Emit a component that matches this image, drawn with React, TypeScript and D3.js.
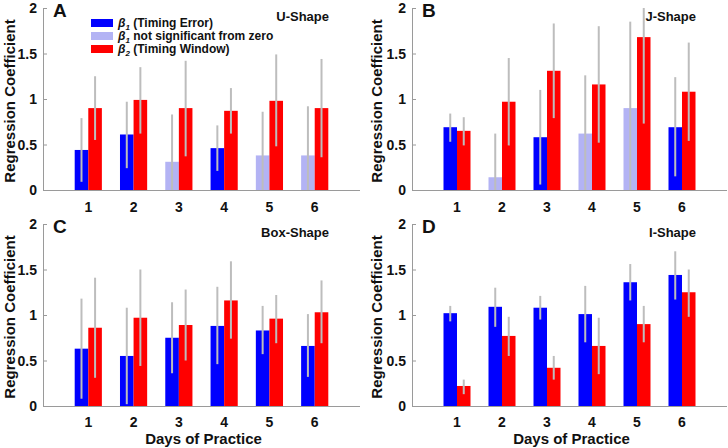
import React from "react";
import * as d3 from "d3";

const days = [1, 2, 3, 4, 5, 6];
const yTicks = [0, 0.5, 1, 1.5, 2];
const yTickLabels = ["0", "0.5", "1", "1.5", "2"];

// Panel A (U-Shape)
const aBeta1 = [0.44, 0.61, 0.31, 0.46, 0.38, 0.38];
const aBeta1Lo = [0.09, 0.24, -0.2, 0.21, -0.1, -0.15];
const aBeta1Hi = [0.79, 0.97, 0.83, 0.71, 0.86, 0.92];
const aBeta1Sig = [true, true, false, true, false, false];
const aBeta2 = [0.9, 0.99, 0.9, 0.87, 0.98, 0.9];
const aBeta2Lo = [0.55, 0.62, 0.37, 0.62, 0.48, 0.36];
const aBeta2Hi = [1.25, 1.35, 1.42, 1.12, 1.49, 1.44];

// Panel B (J-Shape)
const bBeta1 = [0.69, 0.14, 0.58, 0.62, 0.9, 0.69];
const bBeta1Lo = [0.53, -0.35, 0.06, -0.05, -0.05, 0.15];
const bBeta1Hi = [0.84, 0.62, 1.1, 1.26, 1.85, 1.24];
const bBeta1Sig = [true, false, true, false, false, true];
const bBeta2 = [0.65, 0.97, 1.31, 1.16, 1.68, 1.08];
const bBeta2Lo = [0.49, 0.49, 0.79, 0.52, 0.73, 0.54];
const bBeta2Hi = [0.8, 1.45, 1.83, 1.8, 2.6, 1.62];

// Panel C (Box-Shape)
const cBeta1 = [0.63, 0.55, 0.75, 0.88, 0.83, 0.66];
const cBeta1Lo = [0.08, 0.02, 0.36, 0.46, 0.57, 0.32];
const cBeta1Hi = [1.18, 1.08, 1.14, 1.31, 1.1, 1.01];
const cBeta1Sig = [true, true, true, true, true, true];
const cBeta2 = [0.86, 0.97, 0.89, 1.16, 0.96, 1.03];
const cBeta2Lo = [0.31, 0.44, 0.5, 0.74, 0.69, 0.69];
const cBeta2Hi = [1.41, 1.5, 1.28, 1.59, 1.22, 1.38];

// Panel D (I-Shape)
const dBeta1 = [1.02, 1.09, 1.08, 1.01, 1.36, 1.44];
const dBeta1Lo = [0.93, 0.87, 0.95, 0.7, 1.16, 1.17];
const dBeta1Hi = [1.1, 1.3, 1.21, 1.32, 1.56, 1.7];
const dBeta1Sig = [true, true, true, true, true, true];
const dBeta2 = [0.22, 0.77, 0.42, 0.66, 0.9, 1.25];
const dBeta2Lo = [0.13, 0.55, 0.29, 0.35, 0.7, 0.98];
const dBeta2Hi = [0.29, 0.98, 0.55, 0.97, 1.1, 1.5];

const panelLetters = ["A", "B", "C", "D"];
const panelTitles = ["U-Shape", "J-Shape", "Box-Shape", "I-Shape"];
const legendLabels = ["(Timing Error)", "not significant from zero", "(Timing Window)"];

const BLUE = "#0000ff";
const LIGHT = "#b3b3f4";
const RED = "#ff0000";
const ERR = "#bdbdbd";
const AXIS = "#9a9a9a";
const FONT = "'Liberation Sans', Arial, Helvetica, sans-serif";

type PanelData = {
  b1: number[]; b1Lo: number[]; b1Hi: number[]; sig: boolean[];
  b2: number[]; b2Lo: number[]; b2Hi: number[];
};

const panels: PanelData[] = [
  { b1: aBeta1, b1Lo: aBeta1Lo, b1Hi: aBeta1Hi, sig: aBeta1Sig, b2: aBeta2, b2Lo: aBeta2Lo, b2Hi: aBeta2Hi },
  { b1: bBeta1, b1Lo: bBeta1Lo, b1Hi: bBeta1Hi, sig: bBeta1Sig, b2: bBeta2, b2Lo: bBeta2Lo, b2Hi: bBeta2Hi },
  { b1: cBeta1, b1Lo: cBeta1Lo, b1Hi: cBeta1Hi, sig: cBeta1Sig, b2: cBeta2, b2Lo: cBeta2Lo, b2Hi: cBeta2Hi },
  { b1: dBeta1, b1Lo: dBeta1Lo, b1Hi: dBeta1Hi, sig: dBeta1Sig, b2: dBeta2, b2Lo: dBeta2Lo, b2Hi: dBeta2Hi },
];

const layouts = [
  { left: 43, right: 360, top: 8, bottom: 190, ylabX: 10 },
  { left: 412, right: 727, top: 8, bottom: 190, ylabX: 377 },
  { left: 43, right: 360, top: 224, bottom: 406, ylabX: 10 },
  { left: 412, right: 727, top: 224, bottom: 406, ylabX: 377 },
];

const BW = 0.3;

function Panel({ idx }: { idx: number }) {
  const L = layouts[idx];
  const D = panels[idx];
  const x = d3.scaleLinear().domain([0, 7]).range([L.left, L.right]);
  const y = d3.scaleLinear().domain([0, 2]).range([L.bottom, L.top]).clamp(true);
  const bw = x(BW) - x(0);
  const isBottom = idx >= 2;
  const tickLabY = isBottom ? 427 : 212;
  return (
    <g>
      {days.map((d, i) => (
        <g key={d}>
          <rect x={x(d) - bw} width={bw} y={y(D.b1[i])} height={y(0) - y(D.b1[i])}
            fill={D.sig[i] ? BLUE : LIGHT} />
          <rect x={x(d)} width={bw} y={y(D.b2[i])} height={y(0) - y(D.b2[i])} fill={RED} />
        </g>
      ))}
      {days.map((d, i) => (
        <g key={"e" + d}>
          <line x1={x(d) - bw / 2} x2={x(d) - bw / 2} y1={y(D.b1Lo[i])} y2={y(D.b1Hi[i])}
            stroke={ERR} strokeWidth={2} />
          <line x1={x(d) + bw / 2} x2={x(d) + bw / 2} y1={y(D.b2Lo[i])} y2={y(D.b2Hi[i])}
            stroke={ERR} strokeWidth={2} />
        </g>
      ))}
      <line x1={L.left} x2={L.right} y1={y(0) + 0.5} y2={y(0) + 0.5} stroke={AXIS} strokeWidth={1} />
      <line x1={L.left + 0.5} x2={L.left + 0.5} y1={y(2)} y2={y(0)} stroke={AXIS} strokeWidth={1} />
      {yTicks.map((t, i) => (
        <g key={"yt" + t}>
          <line x1={L.left} x2={L.left + 4} y1={y(t) + 0.5} y2={y(t) + 0.5} stroke={AXIS} />
          <text x={L.left - 6} y={y(t)} dy="0.36em" textAnchor="end" fontSize={14}
            fontWeight="bold" fontFamily={FONT} fill="#111">{yTickLabels[i]}</text>
        </g>
      ))}
      {days.map((d) => (
        <text key={"xt" + d} x={x(d)} y={tickLabY} textAnchor="middle" fontSize={14}
          fontWeight="bold" fontFamily={FONT} fill="#111">{d}</text>
      ))}
      <text transform={`translate(${L.ylabX},${(L.top + L.bottom) / 2 + 2}) rotate(-90)`}
        dy="0.36em" textAnchor="middle" fontSize={15} fontWeight="bold" fontFamily={FONT} fill="#111">
        Regression Coefficient
      </text>
      {isBottom && (
        <text x={(L.left + L.right) / 2 + 2} y={444} textAnchor="middle" fontSize={15}
          fontWeight="bold" fontFamily={FONT} fill="#111">Days of Practice</text>
      )}
      <text x={L.left + 10} y={L.top + 9} fontSize={19} fontWeight="bold" fontFamily={FONT} fill="#111">
        {panelLetters[idx]}
      </text>
      <text x={L.right - 31} y={L.top + 13} textAnchor="end" fontSize={13} fontWeight="bold"
        fontFamily={FONT} fill="#111">{panelTitles[idx]}</text>
    </g>
  );
}

function Legend() {
  const colors = [BLUE, LIGHT, RED];
  const subs = ["1", "1", "2"];
  const rowY = [23, 36, 49];
  return (
    <g>
      {legendLabels.map((lab, i) => (
        <g key={lab}>
          <rect x={91} y={rowY[i] - 4} width={22} height={8} fill={colors[i]} />
          <text x={118} y={rowY[i]} dy="0.36em" fontSize={12} fontWeight="bold" fontFamily={FONT} fill="#111">
            <tspan fontStyle="italic">β</tspan>
            <tspan fontStyle="italic" fontSize={8} dy="3">{subs[i]}</tspan>
            <tspan dy="-3"> {lab}</tspan>
          </text>
        </g>
      ))}
    </g>
  );
}

export default function App() {
  return (
    <svg width={728} height={448} style={{ display: "block", position: "absolute", left: 0, top: 0, background: "#fff" }}>
      <rect width={728} height={448} fill="#fff" />
      {[0, 1, 2, 3].map((i) => <Panel key={i} idx={i} />)}
      <Legend />
    </svg>
  );
}
